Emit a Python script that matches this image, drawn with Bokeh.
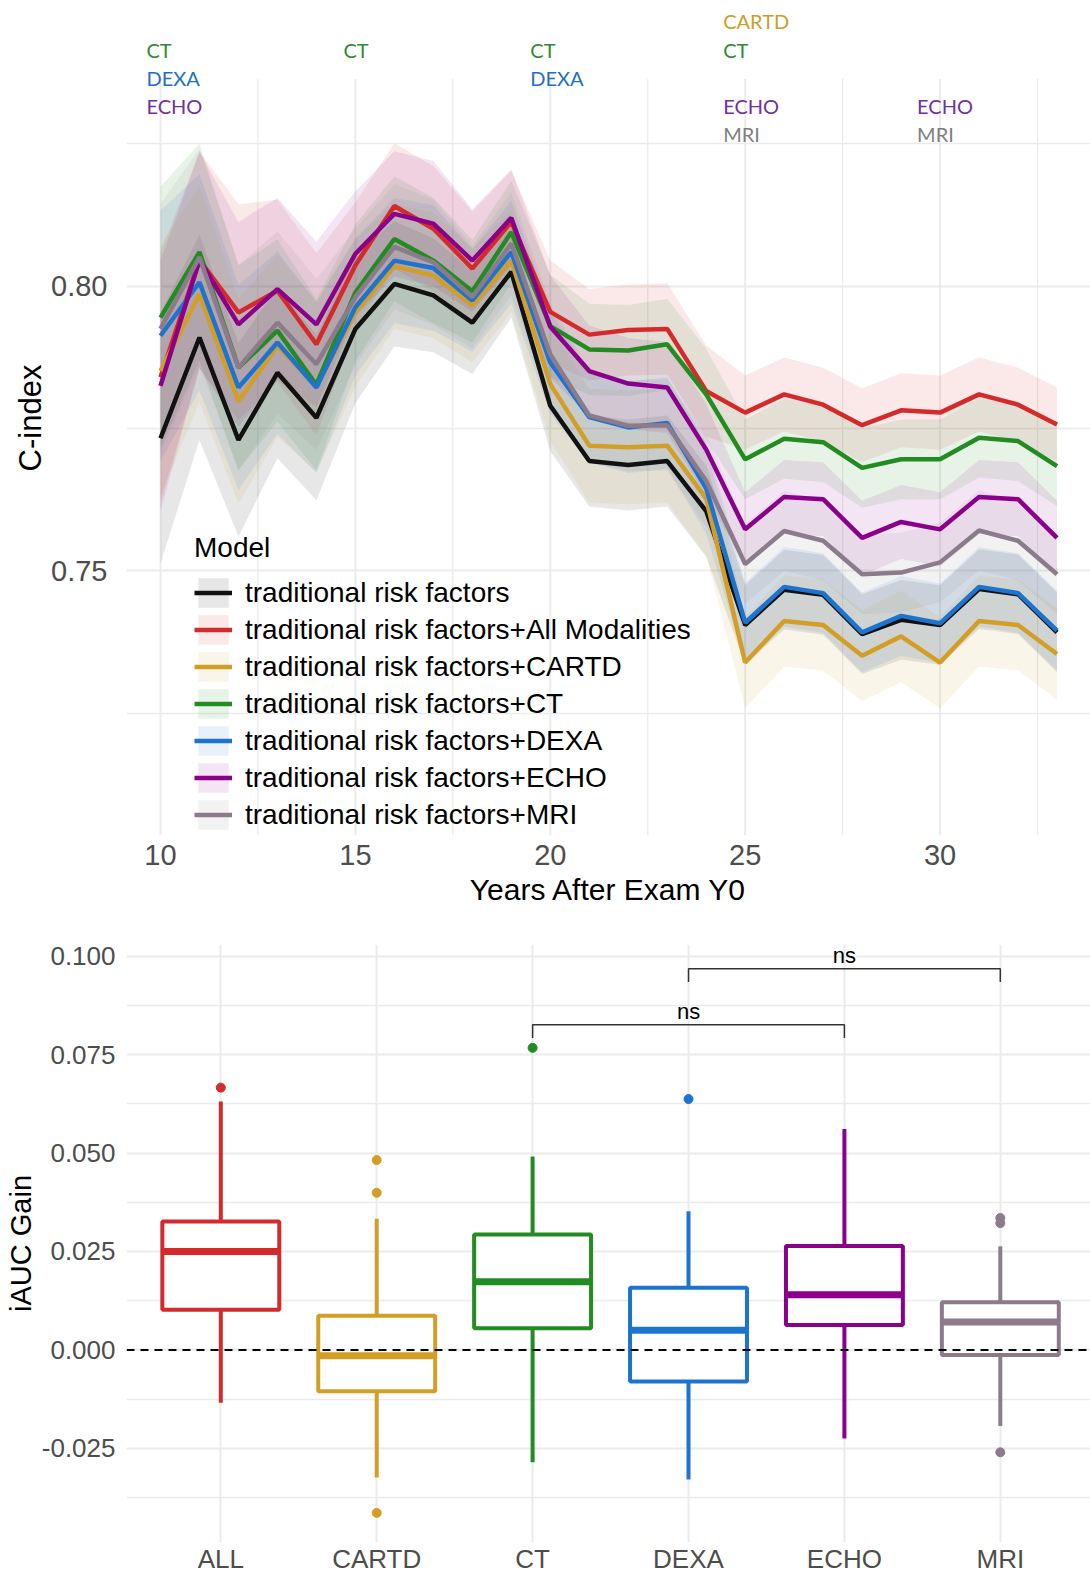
from bokeh.plotting import figure
from bokeh.models import (FixedTicker, PrintfTickFormatter, Legend, LegendItem,
                          ColumnDataSource, Range1d, Span)
from bokeh.layouts import column
from bokeh.embed import file_html
from bokeh.resources import INLINE
from bokeh.core.properties import value

# ---------------- data: top panel ----------------
years = list(range(10, 34))
models = ["traditional risk factors",
          "traditional risk factors+All Modalities",
          "traditional risk factors+CARTD",
          "traditional risk factors+CT",
          "traditional risk factors+DEXA",
          "traditional risk factors+ECHO",
          "traditional risk factors+MRI"]
model_colors = ["#111111", "#D42A2A", "#D29E25", "#228B22", "#1C74CF", "#8B008B", "#8B7B8B"]

cindex_trf = [0.7733, 0.7910, 0.7730, 0.7848, 0.7769, 0.7925, 0.8004, 0.7984, 0.7936, 0.8025, 0.7790, 0.7693,
              0.7686, 0.7693, 0.7605, 0.7405, 0.7467, 0.7458, 0.7389, 0.7414, 0.7405, 0.7468, 0.7459, 0.7392]
cindex_all = [0.7840, 0.8046, 0.7954, 0.7992, 0.7898, 0.8037, 0.8141, 0.8101, 0.8031, 0.8113, 0.7955, 0.7915,
              0.7923, 0.7925, 0.7816, 0.7778, 0.7810, 0.7792, 0.7756, 0.7782, 0.7778, 0.7810, 0.7792, 0.7757]
cindex_cartd = [0.7851, 0.7986, 0.7798, 0.7895, 0.7824, 0.7954, 0.8035, 0.8019, 0.7966, 0.8045, 0.7828, 0.7720,
                0.7717, 0.7720, 0.7627, 0.7339, 0.7412, 0.7405, 0.7351, 0.7385, 0.7339, 0.7412, 0.7405, 0.7354]
cindex_ct = [0.7945, 0.8060, 0.7857, 0.7922, 0.7827, 0.7989, 0.8083, 0.8045, 0.7991, 0.8095, 0.7930, 0.7889,
             0.7887, 0.7898, 0.7810, 0.7696, 0.7732, 0.7726, 0.7681, 0.7696, 0.7696, 0.7734, 0.7728, 0.7684]
cindex_dexa = [0.7913, 0.8007, 0.7822, 0.7901, 0.7822, 0.7963, 0.8045, 0.8032, 0.7975, 0.8060, 0.7866, 0.7770,
               0.7752, 0.7760, 0.7645, 0.7409, 0.7472, 0.7461, 0.7392, 0.7421, 0.7408, 0.7472, 0.7461, 0.7395]
cindex_echo = [0.7825, 0.8046, 0.7933, 0.7995, 0.7933, 0.8057, 0.8127, 0.8110, 0.8045, 0.8120, 0.7929, 0.7851,
               0.7829, 0.7822, 0.7713, 0.7573, 0.7630, 0.7626, 0.7558, 0.7586, 0.7573, 0.7630, 0.7626, 0.7558]
cindex_mri = [0.7925, 0.8051, 0.7857, 0.7936, 0.7863, 0.7981, 0.8069, 0.8042, 0.7981, 0.8075, 0.7880, 0.7773,
              0.7755, 0.7756, 0.7658, 0.7512, 0.7570, 0.7553, 0.7494, 0.7497, 0.7515, 0.7571, 0.7553, 0.7494]

# half width of the confidence band, per year
ci_trf = [0.022, 0.018, 0.017, 0.015, 0.0145, 0.013, 0.011, 0.010, 0.009, 0.008, 0.008, 0.008,
          0.008, 0.008, 0.008, 0.007, 0.007, 0.007, 0.007, 0.007, 0.007, 0.007, 0.007, 0.007]
ci_all = [0.022, 0.019, 0.019, 0.016, 0.016, 0.011, 0.011, 0.011, 0.010, 0.009, 0.009, 0.008,
          0.008, 0.008, 0.008, 0.0065, 0.0065, 0.0065, 0.0065, 0.0065, 0.0065, 0.0065, 0.0065, 0.0065]
ci_cartd = [0.022, 0.019, 0.018, 0.016, 0.015, 0.013, 0.011, 0.011, 0.010, 0.009, 0.010, 0.010,
            0.010, 0.010, 0.010, 0.008, 0.008, 0.008, 0.008, 0.008, 0.008, 0.008, 0.008, 0.008]
ci_ct = [0.023, 0.019, 0.018, 0.016, 0.015, 0.012, 0.011, 0.011, 0.009, 0.009, 0.009, 0.008,
         0.008, 0.008, 0.008, 0.007, 0.007, 0.007, 0.007, 0.007, 0.007, 0.007, 0.007, 0.007]
ci_dexa = [0.022, 0.019, 0.018, 0.016, 0.015, 0.012, 0.011, 0.011, 0.009, 0.009, 0.009, 0.008,
           0.008, 0.008, 0.008, 0.007, 0.007, 0.007, 0.007, 0.007, 0.007, 0.007, 0.007, 0.007]
ci_echo = [0.022, 0.019, 0.018, 0.016, 0.0145, 0.011, 0.011, 0.011, 0.009, 0.0085, 0.009, 0.008,
           0.008, 0.008, 0.008, 0.0065, 0.0065, 0.0065, 0.0065, 0.0065, 0.0065, 0.0065, 0.0065, 0.0065]
ci_mri = [0.022, 0.019, 0.018, 0.016, 0.015, 0.012, 0.011, 0.011, 0.009, 0.009, 0.009, 0.008,
          0.008, 0.008, 0.008, 0.007, 0.007, 0.007, 0.007, 0.007, 0.007, 0.007, 0.007, 0.007]

series = [cindex_trf, cindex_all, cindex_cartd, cindex_ct, cindex_dexa, cindex_echo, cindex_mri]
bands = [ci_trf, ci_all, ci_cartd, ci_ct, ci_dexa, ci_echo, ci_mri]

# modalities collected at each exam (annotation above the plot)
exam_years = [10, 10, 10, 15, 20, 20, 25, 25, 25, 25, 30, 30]
exam_mods = ["CT", "DEXA", "ECHO", "CT", "CT", "DEXA", "CARTD", "CT", "ECHO", "MRI", "ECHO", "MRI"]
mod_text_colors = {"CARTD": "#C9A02A", "CT": "#2E8B2E", "DEXA": "#1F6FC5", "ECHO": "#7030A0", "MRI": "#7F7F7F"}

# ---------------- data: bottom panel ----------------
groups = ["ALL", "CARTD", "CT", "DEXA", "ECHO", "MRI"]
group_colors = ["#D42A2A", "#D29E25", "#228B22", "#1C74CF", "#8B008B", "#8B7B8B"]
q1 = [0.0102, -0.0105, 0.0055, -0.0080, 0.0063, -0.0013]
median = [0.0250, -0.0015, 0.0173, 0.0050, 0.0140, 0.0071]
q3 = [0.0326, 0.0087, 0.0293, 0.0158, 0.0264, 0.0121]
whisker_low = [-0.0134, -0.0324, -0.0285, -0.0329, -0.0225, -0.0193]
whisker_high = [0.0631, 0.0333, 0.0491, 0.0352, 0.0561, 0.0263]
outlier_group = ["ALL", "CARTD", "CARTD", "CARTD", "CT", "DEXA", "MRI", "MRI", "MRI"]
outlier_value = [0.0666, 0.0482, 0.0399, -0.0414, 0.0767, 0.0637, 0.0335, 0.0322, -0.0260]
bracket_from = ["CT", "DEXA"]
bracket_to = ["ECHO", "MRI"]
bracket_y = [0.0826, 0.0968]
bracket_label = ["ns", "ns"]

# ---------------- styling ----------------
FONT = "Liberation Sans"
GRID = "#EBEBEB"
TICK = "#4D4D4D"
FRAME_LEFT = 126
WIDTH = 1090


def style_axes(p, tick_size):
    for ax in (p.xaxis, p.yaxis):
        ax.axis_line_color = None
        ax.major_tick_line_color = None
        ax.minor_tick_line_color = None
        ax.major_tick_out = 0
        ax.major_tick_in = 0
        ax.minor_tick_out = 0
        ax.minor_tick_in = 0
        ax.major_label_text_font = FONT
        ax.major_label_text_font_size = tick_size
        ax.major_label_text_color = TICK
        ax.axis_label_text_font = FONT
        ax.axis_label_text_font_style = "normal"
        ax.axis_label_text_color = "#000000"
    p.outline_line_color = None
    p.background_fill_color = "white"
    p.border_fill_color = "white"


# ---------------- top figure ----------------
y_lo_top = 0.70353
top = figure(width=WIDTH, height=913, output_backend="svg", toolbar_location=None,
             x_range=Range1d(9.128, 33.859), y_range=Range1d(y_lo_top, 0.85018),
             min_border_left=FRAME_LEFT, min_border_right=0, min_border_top=0, min_border_bottom=78)
style_axes(top, "29px")
top.xaxis.ticker = FixedTicker(ticks=[10, 15, 20, 25, 30])
top.yaxis.ticker = FixedTicker(ticks=[0.75, 0.80], minor_ticks=[0.725, 0.775, 0.825])
top.yaxis.formatter = PrintfTickFormatter(format="%.2f")
top.xgrid.visible = False
top.ygrid.grid_line_color = GRID
top.ygrid.grid_line_width = 2
top.ygrid.minor_grid_line_color = GRID
top.ygrid.minor_grid_line_width = 1.3
top.xaxis.axis_label = "Years After Exam Y0"
top.xaxis.axis_label_text_font_size = "30px"
top.xaxis.major_label_standoff = 9
top.xaxis.axis_label_standoff = 5
top.yaxis.axis_label = "C-index"
top.yaxis.axis_label_text_font_size = "31px"
top.yaxis.major_label_standoff = 19
top.yaxis.axis_label_standoff = 0

# vertical grid lines limited to the panel (annotations sit above it)
panel_top = 0.83639
for gx in [10, 15, 20, 25, 30]:
    top.segment(x0=gx, y0=y_lo_top, x1=gx, y1=panel_top, line_color=GRID, line_width=2)
for gx in [12.5, 17.5, 22.5, 27.5, 32.5]:
    top.segment(x0=gx, y0=y_lo_top, x1=gx, y1=panel_top, line_color=GRID, line_width=1.3)

area_rs = []
for vals, hw, c in zip(series, bands, model_colors):
    lo = [v - h for v, h in zip(vals, hw)]
    hi = [v + h for v, h in zip(vals, hw)]
    area_rs.append(top.varea(x=years, y1=lo, y2=hi, fill_color=c, fill_alpha=0.1))
line_rs = []
for vals, c in zip(series, model_colors):
    line_rs.append(top.line(x=years, y=vals, line_color=c, line_width=4.5))

legend = Legend(items=[LegendItem(label=m, renderers=[a, l]) for m, a, l in zip(models, area_rs, line_rs)],
                location=(68, 2), title="Model")
legend.title_text_font = FONT
legend.title_text_font_size = "28px"
legend.title_text_font_style = "normal"
legend.title_text_color = "#000000"
legend.title_standoff = 10
legend.label_text_font = FONT
legend.label_text_font_size = "28px"
legend.label_text_color = "#000000"
legend.glyph_width = 38
legend.glyph_height = 37
legend.label_height = 37
legend.spacing = 0
legend.padding = 0
legend.margin = 0
legend.label_standoff = 13
legend.background_fill_alpha = 0
legend.border_line_color = None
top.add_layout(legend)

# annotation rows (one row per modality), anchored to the exam year
row_y = {"CARTD": 0.84665, "CT": 0.84152, "DEXA": 0.83657, "ECHO": 0.83163, "MRI": 0.82668}
col_shift = {10: -14, 15: -12, 20: -20, 25: -22, 30: -23}
ann = ColumnDataSource(dict(
    x=exam_years,
    y=[row_y[m] for m in exam_mods],
    text=exam_mods,
    color=[mod_text_colors[m] for m in exam_mods],
    dx=[col_shift[yv] for yv in exam_years],
))
top.text(x="x", y="y", text="text", text_color="color", x_offset="dx", source=ann,
         text_align="left", text_baseline="middle",
         text_font=value("Lato"), text_font_size="20px")

# ---------------- bottom figure ----------------
pos = list(range(1, len(groups) + 1))
gpos = dict(zip(groups, pos))
bot = figure(width=WIDTH, height=663, output_backend="svg", toolbar_location=None,
             x_range=Range1d(0.3951, 6.5785), y_range=Range1d(-0.04891, 0.10295),
             min_border_left=FRAME_LEFT, min_border_right=0, min_border_top=31, min_border_bottom=30)
style_axes(bot, "26px")
bot.xaxis.ticker = FixedTicker(ticks=pos)
bot.xaxis.major_label_overrides = {p_: g for p_, g in zip(pos, groups)}
bot.xaxis.major_label_standoff = 1
bot.yaxis.ticker = FixedTicker(ticks=[-0.025, 0.0, 0.025, 0.05, 0.075, 0.1],
                               minor_ticks=[-0.0375, -0.0125, 0.0125, 0.0375, 0.0625, 0.0875])
bot.yaxis.formatter = PrintfTickFormatter(format="%.3f")
bot.yaxis.major_label_standoff = 11
bot.yaxis.axis_label = "iAUC Gain"
bot.yaxis.axis_label_text_font_size = "29px"
bot.yaxis.axis_label_standoff = 2
bot.xgrid.grid_line_color = GRID
bot.xgrid.grid_line_width = 2
bot.ygrid.grid_line_color = GRID
bot.ygrid.grid_line_width = 2
bot.ygrid.minor_grid_line_color = GRID
bot.ygrid.minor_grid_line_width = 1.3

box = ColumnDataSource(dict(x=pos, q1=q1, med=median, q3=q3, lo=whisker_low, hi=whisker_high, color=group_colors))
bot.segment(x0="x", y0="q3", x1="x", y1="hi", line_color="color", line_width=4, source=box)
bot.segment(x0="x", y0="q1", x1="x", y1="lo", line_color="color", line_width=4, source=box)
bot.vbar(x="x", width=0.75, bottom="q1", top="q3", fill_color="white", line_color="color",
         line_width=4, source=box)
bot.rect(x="x", y="med", width=0.75, height=7, height_units="screen", fill_color="color",
         line_color=None, source=box)
outl = ColumnDataSource(dict(x=[gpos[g] for g in outlier_group], y=outlier_value,
                             color=[group_colors[gpos[g] - 1] for g in outlier_group]))
bot.scatter(x="x", y="y", size=9, fill_color="color", line_color="color", source=outl)

bot.add_layout(Span(location=0, dimension="width", line_color="black", line_width=2, line_dash="8 6"))

# significance brackets
for a, b, yb, lab in zip(bracket_from, bracket_to, bracket_y, bracket_label):
    xa, xb = gpos[a], gpos[b]
    bot.multi_line(xs=[[xa, xa, xb, xb]], ys=[[yb - 0.0034, yb, yb, yb - 0.0034]],
                   line_color="#333333", line_width=1.5)
    bot.text(x=[(xa + xb) / 2], y=[yb + 0.0033], text=[lab], text_align="center",
             text_baseline="middle", text_font=value(FONT), text_font_size="22px", text_color="#000000")

layout = column(top, bot)
open("out.html", "w").write(file_html(layout, INLINE))
